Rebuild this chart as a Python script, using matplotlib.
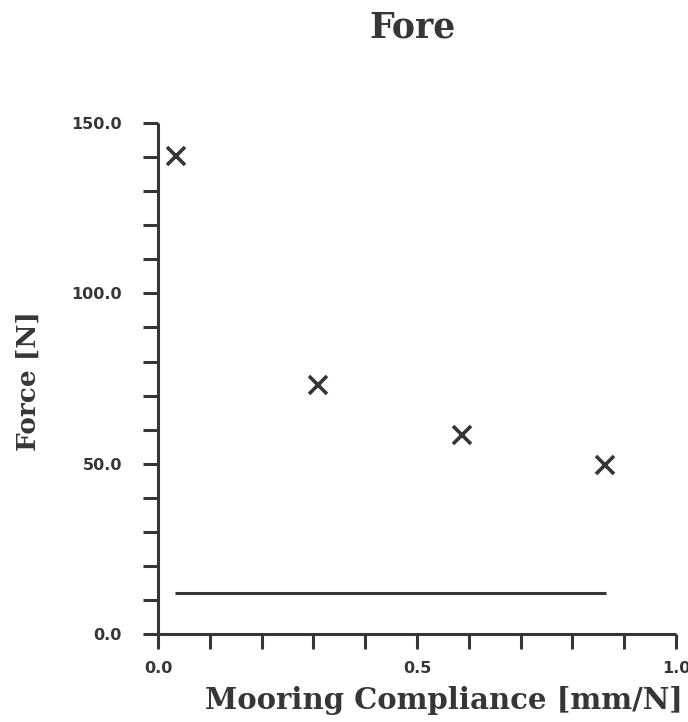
import matplotlib
matplotlib.use("Agg")
import matplotlib.pyplot as plt
from matplotlib.ticker import MultipleLocator, FixedLocator

# Fore mooring: force vs compliance
compliance = [0.035, 0.309, 0.587, 0.863]
force = [140.2, 73.1, 58.5, 49.7]
# flat reference line
ref_x = [0.033, 0.865]
ref_y = [12.3, 12.3]

x_ticks = [0.0, 0.5, 1.0]
y_ticks = [0.0, 50.0, 100.0, 150.0]

ink = "#363636"

fig = plt.figure(figsize=(6.88, 7.22), dpi=100)
ax = fig.add_axes([0.2297, 0.1212, 0.7529, 0.7088])

ax.plot(ref_x, ref_y, color=ink, linewidth=2.2, solid_capstyle="butt")
ax.plot(compliance, force, linestyle="none", marker="x", markersize=13,
        markeredgewidth=2.6, color=ink)

ax.set_xlim(0, 1.0)
ax.set_ylim(0, 150)

for s in ["top", "right"]:
    ax.spines[s].set_visible(False)
for s in ["left", "bottom"]:
    ax.spines[s].set_linewidth(2.2)
    ax.spines[s].set_color(ink)
    ax.spines[s].set_capstyle("butt")

ax.xaxis.set_major_locator(FixedLocator(x_ticks))
ax.xaxis.set_minor_locator(MultipleLocator(0.1))
ax.yaxis.set_major_locator(FixedLocator(y_ticks))
ax.yaxis.set_minor_locator(MultipleLocator(10))
ax.set_xticklabels(["%.1f" % v for v in x_ticks])
ax.set_yticklabels(["%.1f" % v for v in y_ticks])

ax.tick_params(which="both", direction="out", length=11, width=2.2, color=ink)
ax.tick_params(axis="x", which="major", pad=8)
ax.tick_params(axis="y", which="major", pad=15)
for lab in ax.get_xticklabels() + ax.get_yticklabels():
    lab.set_fontfamily("DejaVu Sans")
    lab.set_fontweight("bold")
    lab.set_fontsize(11.5)
    lab.set_color(ink)

ax.set_xlabel("Mooring Compliance [mm/N]", family="DejaVu Serif",
              fontweight="bold", fontsize=21, color=ink)
ax.xaxis.set_label_coords(0.552, -0.101)
ax.set_ylabel("Force [N]", family="DejaVu Serif", fontweight="bold",
              fontsize=19, color=ink)
ax.yaxis.set_label_coords(-0.226, 0.495)

fig.text(0.6, 0.962, "Fore", family="DejaVu Serif", fontweight="bold",
         fontsize=25, color=ink, ha="center", va="center")

fig.savefig("out.png", dpi=100)
